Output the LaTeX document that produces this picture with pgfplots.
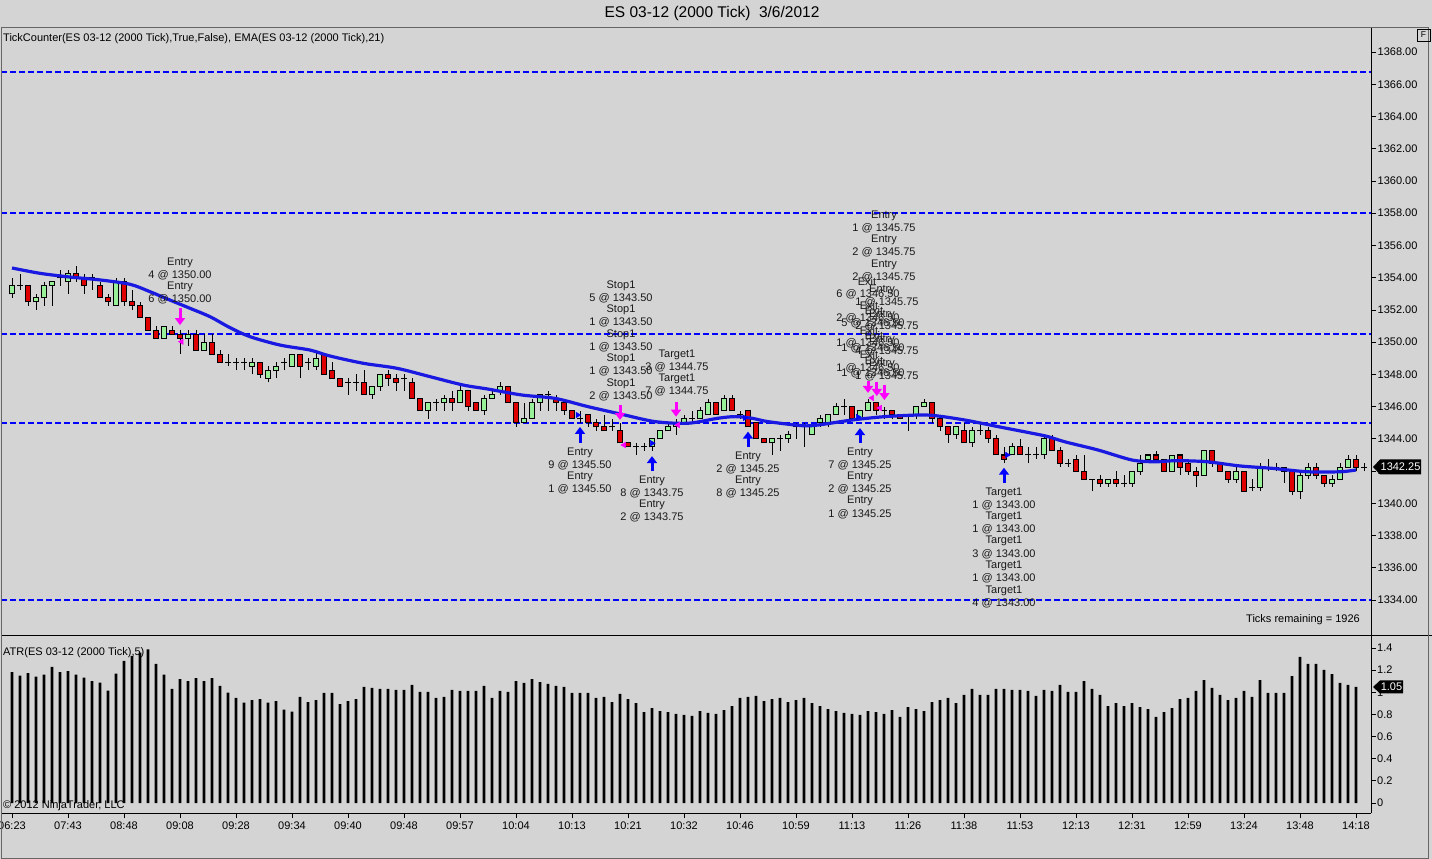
\documentclass[border=0pt]{standalone}
\usepackage{pgfplots}
\pgfplotsset{compat=1.18}
\usepackage{pgfplotstable}
\usepackage{fontspec}
\setmainfont{Liberation Sans}
\usetikzlibrary{arrows.meta}
\definecolor{bg}{RGB}{212,212,212}
\definecolor{upc}{RGB}{152,240,152}
\definecolor{dnc}{RGB}{222,0,0}
\definecolor{ema}{RGB}{25,25,225}
\definecolor{lvl}{RGB}{0,0,255}
\definecolor{mag}{RGB}{255,0,255}
\definecolor{buy}{RGB}{0,0,255}
\newcommand{\ann}{\fontsize{11bp}{12.5bp}\selectfont}
\newcommand{\PX}[2]{({#1bp},{859bp-#2bp})}
\newcommand{\TL}[3]{\node[font=\ann, inner sep=0pt, text=black!90] at \PX{#1}{#2} {#3};}
\pgfplotsset{
  cbar/.style 2 args={draw=none, mark=none, forget plot,
    error bars/.cd, y dir=plus, y explicit, error mark=none,
    error bar style={draw=#1, line width=#2, solid}},
}
% up candles: k open high low close
\pgfplotstableread{
k o h l c
0 1353.0 1354.0 1352.75 1353.5
3 1352.5 1353.0 1352.0 1352.75
4 1352.75 1353.75 1352.25 1353.5
5 1353.5 1353.75 1352.25 1353.75
7 1353.75 1354.5 1353.0 1354.25
13 1352.25 1354.0 1352.25 1353.75
19 1350.25 1351.0 1350.25 1351.0
22 1350.25 1350.75 1349.75 1350.5
24 1349.5 1350.5 1349.5 1350.0
30 1348.5 1349.0 1348.0 1348.75
32 1347.75 1348.5 1347.5 1348.25
33 1348.25 1348.75 1347.75 1348.5
35 1348.5 1349.25 1348.5 1349.25
38 1348.5 1349.5 1348.25 1349.0
45 1346.75 1347.25 1346.5 1347.25
46 1347.25 1348.0 1347.0 1348.0
52 1345.75 1346.25 1345.25 1346.25
54 1346.25 1346.75 1345.75 1346.5
56 1346.25 1347.25 1346.25 1347.0
59 1345.75 1346.75 1345.5 1346.5
60 1346.5 1347.0 1346.5 1346.75
61 1347.0 1347.5 1346.75 1347.25
64 1345.0 1346.25 1345.0 1345.25
65 1345.25 1346.5 1345.25 1346.25
66 1346.25 1346.75 1345.75 1346.75
80 1343.5 1344.0 1343.25 1344.0
81 1344.0 1344.5 1344.0 1344.5
82 1344.5 1345.0 1344.5 1344.75
83 1344.75 1345.25 1344.25 1345.0
84 1345.0 1345.5 1345.0 1345.25
86 1345.25 1346.0 1345.25 1345.75
87 1345.5 1346.5 1345.5 1346.25
89 1345.75 1346.75 1345.75 1346.5
95 1343.75 1344.0 1343.0 1344.0
97 1344.0 1344.5 1343.75 1344.25
100 1344.25 1344.75 1344.25 1344.75
101 1345.0 1345.5 1344.75 1345.25
102 1345.0 1345.5 1344.75 1345.5
103 1345.5 1346.25 1345.5 1346.0
106 1345.25 1345.75 1345.25 1345.75
107 1345.75 1346.5 1345.75 1346.25
113 1345.5 1346.0 1345.25 1346.0
114 1346.0 1346.5 1346.0 1346.25
118 1344.25 1344.75 1344.0 1344.75
120 1343.75 1344.75 1343.5 1344.5
125 1343.0 1343.75 1343.0 1343.5
129 1343.0 1344.25 1342.75 1344.0
137 1341.25 1341.5 1341.0 1341.5
140 1341.25 1342.0 1341.0 1342.0
141 1342.0 1343.0 1341.75 1342.5
142 1342.75 1343.0 1342.5 1343.0
145 1342.0 1343.0 1342.0 1343.0
149 1341.75 1343.25 1341.75 1343.25
153 1341.5 1342.25 1341.25 1342.0
156 1341.0 1342.5 1340.75 1342.25
161 1340.75 1342.0 1340.25 1341.75
162 1341.75 1342.5 1341.5 1342.25
165 1341.25 1341.75 1341.0 1341.5
166 1341.5 1342.5 1341.5 1342.25
167 1342.25 1343.0 1342.25 1342.75
}\upT
% down candles
\pgfplotstableread{
k o h l c
2 1353.5 1353.5 1352.25 1352.5
8 1354.25 1354.75 1353.75 1354.0
9 1354.0 1354.25 1353.0 1353.5
11 1353.5 1353.75 1352.75 1352.75
12 1352.75 1353.0 1352.25 1352.5
14 1353.75 1354.0 1352.25 1352.5
15 1352.5 1353.25 1352.0 1352.25
16 1352.25 1352.5 1351.5 1351.5
17 1351.5 1351.5 1350.75 1350.75
18 1350.75 1351.0 1350.25 1350.25
20 1350.75 1351.0 1350.5 1350.5
21 1350.5 1350.75 1349.25 1350.25
23 1350.5 1350.75 1349.5 1349.5
25 1350.0 1350.5 1349.25 1349.25
26 1349.25 1349.5 1348.75 1348.75
31 1348.75 1348.75 1347.75 1348.0
36 1349.25 1349.25 1347.75 1348.5
39 1349.25 1349.25 1348.0 1348.0
40 1348.25 1348.75 1347.75 1347.75
41 1347.75 1347.75 1347.25 1347.25
44 1347.5 1348.25 1346.75 1346.75
47 1348.0 1348.25 1347.25 1347.75
48 1347.75 1348.0 1347.0 1347.5
50 1347.5 1347.75 1346.5 1346.5
51 1346.5 1346.5 1345.75 1345.75
55 1346.5 1347.0 1345.75 1346.25
57 1347.0 1347.0 1345.75 1346.0
58 1346.25 1346.25 1345.75 1345.75
62 1347.25 1347.25 1346.25 1346.25
63 1346.25 1346.25 1344.75 1345.0
68 1346.5 1346.75 1345.75 1346.25
69 1346.25 1346.25 1345.5 1345.75
70 1345.75 1345.75 1345.25 1345.25
72 1345.5 1345.5 1344.75 1345.0
73 1345.0 1345.25 1344.5 1344.75
74 1344.75 1345.5 1344.5 1344.5
76 1344.5 1345.0 1343.75 1343.75
77 1343.75 1343.75 1343.5 1343.5
88 1346.25 1346.25 1345.5 1345.5
90 1346.5 1346.75 1345.75 1345.75
92 1345.75 1345.75 1344.75 1344.75
93 1345.0 1345.0 1344.0 1344.0
94 1344.0 1344.0 1343.75 1343.75
105 1346.0 1346.0 1345.25 1345.25
108 1346.25 1346.25 1345.5 1345.75
110 1345.75 1345.75 1345.25 1345.5
111 1345.5 1345.5 1345.25 1345.25
115 1346.25 1346.25 1345.0 1345.25
116 1345.25 1345.5 1344.5 1344.75
117 1344.75 1344.75 1343.75 1344.25
119 1344.5 1345.0 1343.75 1343.75
122 1344.5 1344.75 1343.75 1344.0
123 1344.0 1344.25 1343.0 1343.0
124 1343.0 1343.5 1342.5 1342.75
126 1343.5 1344.0 1343.0 1343.0
130 1344.0 1344.25 1343.25 1343.25
131 1343.25 1343.5 1342.25 1342.5
133 1342.75 1343.0 1342.0 1342.0
134 1342.0 1343.0 1341.5 1341.5
136 1341.5 1341.75 1341.0 1341.25
138 1341.5 1342.0 1341.0 1341.25
143 1343.0 1343.25 1342.75 1342.75
144 1342.75 1342.75 1342.0 1342.0
146 1343.0 1343.0 1341.75 1342.25
147 1342.5 1342.75 1341.75 1342.0
148 1342.0 1342.25 1341.0 1341.75
150 1343.25 1343.25 1342.25 1342.5
151 1342.5 1342.5 1342.0 1342.0
152 1342.0 1342.0 1341.25 1341.5
154 1342.0 1342.0 1340.75 1340.75
159 1342.25 1342.25 1341.25 1342.0
160 1342.0 1342.0 1340.5 1340.75
163 1342.25 1342.5 1341.5 1341.75
164 1341.75 1341.75 1341.0 1341.25
168 1342.75 1343.0 1342.0 1342.25
}\dnT
% doji candles
\pgfplotstableread{
k o h l c
1 1353.5 1354.25 1353.25 1353.5
6 1354.0 1354.5 1353.5 1354.0
10 1354.0 1354.25 1353.25 1354.0
27 1348.75 1349.25 1348.5 1348.75
28 1348.75 1349.0 1348.25 1348.75
29 1348.75 1349.0 1348.25 1348.75
34 1348.75 1349.0 1348.25 1348.75
37 1348.75 1349.0 1348.25 1348.75
42 1347.5 1347.75 1346.75 1347.5
43 1347.5 1348.0 1347.0 1347.5
49 1347.75 1348.0 1347.0 1347.75
53 1346.25 1346.5 1345.75 1346.25
67 1346.75 1347.0 1345.75 1346.75
71 1345.25 1345.75 1345.0 1345.25
75 1344.75 1345.25 1344.5 1344.75
78 1343.5 1343.75 1343.0 1343.5
79 1343.5 1343.75 1343.25 1343.5
85 1345.25 1345.75 1345.0 1345.25
91 1345.5 1345.75 1345.25 1345.5
96 1344.0 1344.25 1343.25 1344.0
98 1344.75 1345.0 1344.0 1344.75
99 1344.75 1345.0 1343.5 1344.75
104 1346.0 1346.5 1345.5 1346.0
109 1345.75 1346.0 1345.25 1345.75
112 1345.5 1345.5 1344.5 1345.5
121 1344.5 1345.0 1344.25 1344.5
127 1343.0 1343.5 1342.5 1343.0
128 1343.0 1343.5 1342.75 1343.0
132 1342.5 1342.75 1342.25 1342.5
135 1341.5 1341.5 1340.75 1341.5
139 1341.25 1341.75 1341.0 1341.25
155 1341.0 1341.5 1340.75 1341.0
157 1342.25 1342.75 1342.0 1342.25
158 1342.25 1342.5 1342.0 1342.25
169 1342.25 1342.5 1342.0 1342.25
}\djT
% EMA(21)
\pgfplotstableread{
k v
0 1354.6
3.5 1354.27
7.25 1354.04
11 1353.86
14.75 1353.59
17.25 1353.13
19.75 1352.61
22.25 1352.1
24.75 1351.58
27.25 1350.9
29.75 1350.34
33.5 1349.82
37.25 1349.51
39.75 1349.14
43.9 1348.69
48.1 1348.38
52.25 1347.86
56.4 1347.34
59.5 1347.09
63.75 1346.72
67.9 1346.51
72 1346.0
76.25 1345.52
80.4 1345.07
84.5 1344.97
88.25 1345.28
90.4 1345.38
92.5 1345.28
94.5 1345.07
98.75 1344.82
100.75 1344.86
105 1345.17
109.1 1345.38
113.25 1345.48
115.4 1345.44
119.1 1345.17
123.25 1344.76
127.5 1344.35
129.5 1344.14
131.6 1343.82
135.75 1343.31
140 1342.69
142.9 1342.58
145.6 1342.65
149.4 1342.58
153.5 1342.32
157.6 1342.17
161.9 1341.96
166 1341.96
168 1342.07
}\emaT
% ATR(5)
\pgfplotstableread{
k v
0 1.183
1 1.150
2 1.174
3 1.141
4 1.159
5 1.229
6 1.183
7 1.192
8 1.159
9 1.132
10 1.102
11 1.087
12 1.015
13 1.168
14 1.283
15 1.328
16 1.358
17 1.388
18 1.256
19 1.159
20 1.030
21 1.120
22 1.102
23 1.129
24 1.102
25 1.129
26 1.057
27 0.997
28 0.949
29 0.906
30 0.930
31 0.939
32 0.906
33 0.921
34 0.843
35 0.825
36 0.958
37 0.912
38 0.930
39 0.994
40 0.994
41 0.894
42 0.921
43 0.939
44 1.048
45 1.039
46 1.030
47 1.030
48 1.021
49 1.021
50 1.066
51 1.003
52 1.003
53 0.949
54 0.958
55 1.021
56 1.012
57 1.012
58 1.012
59 1.057
60 0.949
61 1.012
62 1.003
63 1.102
64 1.084
65 1.120
66 1.093
67 1.075
68 1.057
69 1.048
70 0.994
71 0.994
72 0.994
73 0.949
74 0.958
75 0.912
76 0.985
77 0.939
78 0.903
79 0.822
80 0.858
81 0.831
82 0.822
83 0.804
84 0.795
85 0.786
86 0.831
87 0.813
88 0.804
89 0.840
90 0.876
91 0.949
92 0.958
93 0.967
94 0.921
95 0.939
96 0.949
97 0.912
98 0.930
99 0.949
100 0.903
101 0.876
102 0.849
103 0.831
104 0.813
105 0.804
106 0.795
107 0.831
108 0.822
109 0.804
110 0.840
111 0.777
112 0.867
113 0.849
114 0.831
115 0.912
116 0.930
117 0.949
118 0.903
119 0.976
120 1.030
121 0.976
122 0.976
123 1.030
124 1.030
125 1.021
126 1.021
127 1.012
128 0.967
129 1.021
130 1.012
131 1.066
132 1.003
133 1.003
134 1.102
135 1.030
136 0.976
137 0.876
138 0.903
139 0.876
140 0.903
141 0.867
142 0.849
143 0.777
144 0.822
145 0.858
146 0.939
147 0.949
148 1.012
149 1.111
150 1.039
151 0.976
152 0.930
153 0.949
154 1.012
155 0.958
156 1.111
157 0.994
158 0.994
159 0.994
160 1.147
161 1.319
162 1.256
163 1.256
164 1.202
165 1.165
166 1.084
167 1.066
168 1.048
}\atrT
\begin{document}
\begin{tikzpicture}
\useasboundingbox (0,0) rectangle (1432bp,859bp);
\fill[bg] (0,0) rectangle (1432bp,859bp);
% ---------------- price panel ----------------
\begin{axis}[
  at={(1bp,224bp)}, anchor=south west, scale only axis,
  width=1370bp, height=607bp,
  xmin=-1.375, xmax=169.875, ymin=1331.834, ymax=1369.489,
  axis y line*=right, axis x line*=bottom,
  axis line style={black, line width=0.8bp},
  xtick=\empty,
  ytick={1334,1336,1338,1340,1342,1344,1346,1348,1350,1352,1354,1356,1358,1360,1362,1364,1366,1368},
  yticklabels={1334.00,1336.00,1338.00,1340.00,1342.00,1344.00,1346.00,1348.00,1350.00,1352.00,1354.00,1356.00,1358.00,1360.00,1362.00,1364.00,1366.00,1368.00},
  tick align=outside, major tick length=5bp,
  tick style={black, line width=0.8bp},
  yticklabel style={font=\ann, inner xsep=1.5bp},
]
% horizontal levels
\addplot[lvl, line width=1.8bp, dash pattern=on 6bp off 3bp, forget plot] coordinates {(-1.375,1366.75) (169.875,1366.75)};
\addplot[lvl, line width=1.8bp, dash pattern=on 6bp off 3bp, forget plot] coordinates {(-1.375,1358.0) (169.875,1358.0)};
\addplot[lvl, line width=1.8bp, dash pattern=on 6bp off 3bp, forget plot] coordinates {(-1.375,1350.5) (169.875,1350.5)};
\addplot[lvl, line width=1.8bp, dash pattern=on 6bp off 3bp, forget plot] coordinates {(-1.375,1345.0) (169.875,1345.0)};
\addplot[lvl, line width=1.8bp, dash pattern=on 6bp off 3bp, forget plot] coordinates {(-1.375,1334.0) (169.875,1334.0)};
% wicks
\addplot[cbar={black}{1bp}] table[x=k, y=l, y error plus expr=\thisrow{h}-\thisrow{l}] {\upT};
\addplot[cbar={black}{1bp}] table[x=k, y=l, y error plus expr=\thisrow{h}-\thisrow{l}] {\dnT};
\addplot[cbar={black}{1bp}] table[x=k, y=l, y error plus expr=\thisrow{h}-\thisrow{l}] {\djT};
% bodies (outline)
\addplot[cbar={black}{5.4bp}] table[x=k, y expr=\thisrow{o}-0.031, y error plus expr=\thisrow{c}-\thisrow{o}+0.062] {\upT};
\addplot[cbar={black}{5.4bp}] table[x=k, y expr=\thisrow{c}-0.031, y error plus expr=\thisrow{o}-\thisrow{c}+0.062] {\dnT};
\addplot[cbar={black}{5.4bp}] table[x=k, y expr=\thisrow{o}-0.031, y error plus expr=0.062] {\djT};
% bodies (fill)
\addplot[cbar={upc}{3.4bp}] table[x=k, y expr=\thisrow{o}+0.031, y error plus expr=\thisrow{c}-\thisrow{o}-0.062] {\upT};
\addplot[cbar={dnc}{3.4bp}] table[x=k, y expr=\thisrow{c}+0.031, y error plus expr=\thisrow{o}-\thisrow{c}-0.062] {\dnT};
% EMA
\addplot[ema, line width=3.2bp, smooth, forget plot] table[x=k, y=v] {\emaT};
% sell / stop arrows (down)
\addplot[mag, line width=3bp, -{Triangle[width=10bp,length=7bp]}, quiver={u=0, v=\thisrow{v}}, forget plot] table[x=k, y=y] {
k y v
21 1352.12 -1.06
76 1346.10 -0.93
83 1346.31 -0.93
107 1347.59 -0.74
108.1 1347.53 -0.87
109.05 1347.34 -0.93
};
% buy arrows (up)
\addplot[buy, line width=3bp, -{Triangle[width=10bp,length=7bp]}, quiver={u=0, v=\thisrow{v}}, forget plot] table[x=k, y=y] {
k y v
71 1343.74 1.0
80 1342.0 0.93
92 1343.51 0.94
106 1343.74 0.93
124 1341.25 0.96
};
% fill markers
\addplot[only marks, mark=triangle*, mark size=3.2bp, mark options={fill=mag, draw=mag, rotate=90}, forget plot] coordinates {(21.2,1350.03) (76.5,1343.62) (83.25,1344.86) (107.5,1346.54) (108.5,1345.92)};
\addplot[only marks, mark=triangle*, mark size=3.2bp, mark options={fill=buy, draw=buy, rotate=-90}, forget plot] coordinates {(70.7,1345.48) (80,1343.73) (91.6,1345.3) (105.75,1345.36) (124.4,1343.0)};
\end{axis}
% ---------------- ATR panel ----------------
\begin{axis}[
  at={(1bp,46bp)}, anchor=south west, scale only axis,
  width=1370bp, height=178bp,
  xmin=-1.375, xmax=169.875, ymin=-0.0903, ymax=1.5176,
  axis y line*=right, axis x line*=bottom,
  axis line style={black, line width=0.8bp},
  xtick={0,7,...,168},
  xticklabels={06:23,07:43,08:48,09:08,09:28,09:34,09:40,09:48,09:57,10:04,10:13,10:21,10:32,10:46,10:59,11:13,11:26,11:38,11:53,12:13,12:31,12:59,13:24,13:48,14:18},
  ytick={0,0.2,0.4,0.6,0.8,1.0,1.2,1.4},
  yticklabels={0,0.2,0.4,0.6,0.8,1,1.2,1.4},
  tick align=outside, major tick length=4.5bp,
  tick style={black, line width=0.8bp},
  yticklabel style={font=\ann, inner xsep=1.5bp},
  xticklabel style={font=\ann, inner ysep=4.5bp},
]
\addplot[ybar, bar width=2.7bp, fill=black, draw=none] table[x=k, y=v] {\atrT};
\end{axis}
% ---------------- frame & texts ----------------
\draw[black, line width=0.8bp] \PX{1}{635} -- \PX{1432}{635};
\draw[black!60, line width=0.8bp] \PX{1}{27} -- \PX{1}{858.5} -- \PX{1428}{858.5} -- \PX{1428}{27};
\draw[black!60, line width=0.6bp] \PX{1}{27} -- \PX{1428}{27};
\draw[black, line width=0.6bp] \PX{1417}{29} rectangle \PX{1430}{41};
\node[font=\fontsize{8.5bp}{9bp}\selectfont, inner sep=0pt] at \PX{1423.5}{35} {F};
\node[font=\fontsize{15.5bp}{17bp}\selectfont, inner sep=0pt] at \PX{712}{13} {ES 03-12 (2000 Tick)\ \ 3/6/2012};
\node[font=\ann, inner sep=0pt, anchor=west] at \PX{3}{39} {TickCounter(ES 03-12 (2000 Tick),True,False), EMA(ES 03-12 (2000 Tick),21)};
\node[font=\ann, inner sep=0pt, anchor=west] at \PX{3}{653} {ATR(ES 03-12 (2000 Tick),5)};
\node[font=\ann, inner sep=0pt, anchor=west] at \PX{3}{806} {\textcopyright{} 2012 NinjaTrader, LLC};
\node[font=\ann, inner sep=0pt, anchor=east] at \PX{1360}{620} {Ticks remaining = 1926};
% last value boxes
\fill[black] \PX{1373}{467} -- \PX{1380}{459.5} -- \PX{1421}{459.5} -- \PX{1421}{474.5} -- \PX{1380}{474.5} -- cycle;
\node[font=\ann, inner sep=0pt, text=white] at \PX{1400.5}{467} {1342.25};
\fill[black] \PX{1373}{687} -- \PX{1380}{680.5} -- \PX{1403}{680.5} -- \PX{1403}{693.5} -- \PX{1380}{693.5} -- cycle;
\node[font=\ann, inner sep=0pt, text=white] at \PX{1391.5}{687} {1.05};
% trade annotations
\TL{180}{263}{Entry}
\TL{180}{275}{4 @ 1350.00}
\TL{180}{287}{Entry}
\TL{180}{299}{6 @ 1350.00}
\TL{621}{286}{Stop1}
\TL{621}{298}{5 @ 1343.50}
\TL{621}{310}{Stop1}
\TL{621}{322}{1 @ 1343.50}
\TL{621}{335}{Stop1}
\TL{621}{347}{1 @ 1343.50}
\TL{621}{359}{Stop1}
\TL{621}{371}{1 @ 1343.50}
\TL{621}{384}{Stop1}
\TL{621}{396}{2 @ 1343.50}
\TL{677}{355}{Target1}
\TL{677}{367}{3 @ 1344.75}
\TL{677}{379}{Target1}
\TL{677}{391}{7 @ 1344.75}
\TL{580}{453}{Entry}
\TL{580}{465}{9 @ 1345.50}
\TL{580}{477}{Entry}
\TL{580}{489}{1 @ 1345.50}
\TL{652}{481}{Entry}
\TL{652}{493}{8 @ 1343.75}
\TL{652}{505}{Entry}
\TL{652}{517}{2 @ 1343.75}
\TL{748}{457}{Entry}
\TL{748}{469}{2 @ 1345.25}
\TL{748}{481}{Entry}
\TL{748}{493}{8 @ 1345.25}
\TL{860}{453}{Entry}
\TL{860}{465}{7 @ 1345.25}
\TL{860}{477}{Entry}
\TL{860}{489}{2 @ 1345.25}
\TL{860}{501}{Entry}
\TL{860}{514}{1 @ 1345.25}
\TL{1004}{493}{Target1}
\TL{1004}{505}{1 @ 1343.00}
\TL{1004}{517}{Target1}
\TL{1004}{529}{1 @ 1343.00}
\TL{1004}{541}{Target1}
\TL{1004}{554}{3 @ 1343.00}
\TL{1004}{566}{Target1}
\TL{1004}{578}{1 @ 1343.00}
\TL{1004}{591}{Target1}
\TL{1004}{603}{4 @ 1343.00}
% crowded cluster (overlapping, as in the original)
\TL{884}{216}{Entry}
\TL{884}{228}{1 @ 1345.75}
\TL{884}{240}{Entry}
\TL{884}{252}{2 @ 1345.75}
\TL{884}{265}{Entry}
\TL{884}{277}{2 @ 1345.75}
\TL{882}{290}{Entry}
\TL{887}{302}{1 @ 1345.75}
\TL{882}{315}{Entry}
\TL{887}{326}{2 @ 1345.75}
\TL{882}{340}{Entry}
\TL{887}{351}{4 @ 1345.75}
\TL{882}{364}{Entry}
\TL{887}{376}{1 @ 1345.75}
\TL{867}{282}{Exit}
\TL{868}{294}{6 @ 1346.50}
\TL{869}{306}{Exit}
\TL{868}{318}{2 @ 1346.50}
\TL{869}{331}{Exit}
\TL{868}{343}{1 @ 1346.50}
\TL{869}{355}{Exit}
\TL{868}{368}{1 @ 1346.50}
\TL{874}{311}{Exit}
\TL{873}{323}{5 @ 1346.50}
\TL{874}{336}{Exit}
\TL{873}{348}{1 @ 1346.50}
\TL{874}{361}{Exit}
\TL{873}{373}{1 @ 1346.50}
\end{tikzpicture}
\end{document}
